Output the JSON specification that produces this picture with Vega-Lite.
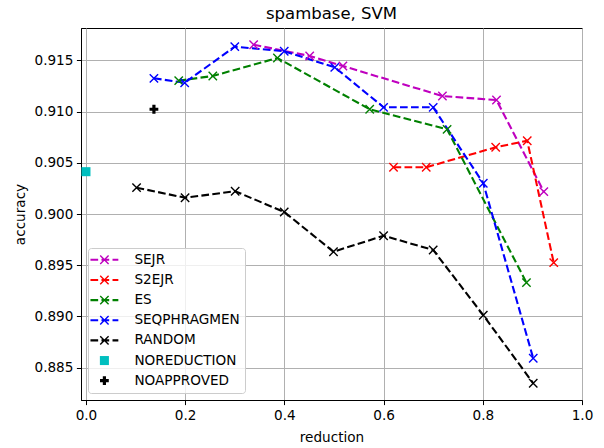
{
  "$schema": "https://vega.github.io/schema/vega-lite/v6.json",
  "width": 501,
  "height": 372,
  "autosize": {"type": "none"},
  "padding": {"left": 81, "top": 28, "right": 22, "bottom": 48},
  "background": "white",
  "title": {"text": "spambase, SVM", "fontSize": 16.5, "font": "DejaVu Sans", "fontWeight": "normal", "color": "black", "offset": 6},
  "data": {
    "values": [
      {"method": "SEJR", "reduction": 0.338, "accuracy": 0.91652},
      {"method": "SEJR", "reduction": 0.451, "accuracy": 0.91542},
      {"method": "SEJR", "reduction": 0.518, "accuracy": 0.91444},
      {"method": "SEJR", "reduction": 0.7186, "accuracy": 0.91151},
      {"method": "SEJR", "reduction": 0.8276, "accuracy": 0.91112},
      {"method": "SEJR", "reduction": 0.923, "accuracy": 0.90218},
      {"method": "S2EJR", "reduction": 0.62, "accuracy": 0.90456},
      {"method": "S2EJR", "reduction": 0.686, "accuracy": 0.90456},
      {"method": "S2EJR", "reduction": 0.826, "accuracy": 0.90651},
      {"method": "S2EJR", "reduction": 0.8896, "accuracy": 0.90715},
      {"method": "S2EJR", "reduction": 0.943, "accuracy": 0.89525},
      {"method": "ES", "reduction": 0.187, "accuracy": 0.91301},
      {"method": "ES", "reduction": 0.2557, "accuracy": 0.91347},
      {"method": "ES", "reduction": 0.386, "accuracy": 0.91522},
      {"method": "ES", "reduction": 0.572, "accuracy": 0.91022},
      {"method": "ES", "reduction": 0.728, "accuracy": 0.90826},
      {"method": "ES", "reduction": 0.888, "accuracy": 0.8933},
      {"method": "SEQPHRAGMEN", "reduction": 0.137, "accuracy": 0.91324},
      {"method": "SEQPHRAGMEN", "reduction": 0.199, "accuracy": 0.91281},
      {"method": "SEQPHRAGMEN", "reduction": 0.3, "accuracy": 0.91633},
      {"method": "SEQPHRAGMEN", "reduction": 0.3997, "accuracy": 0.91588},
      {"method": "SEQPHRAGMEN", "reduction": 0.5016, "accuracy": 0.91431},
      {"method": "SEQPHRAGMEN", "reduction": 0.6, "accuracy": 0.91041},
      {"method": "SEQPHRAGMEN", "reduction": 0.7, "accuracy": 0.91041},
      {"method": "SEQPHRAGMEN", "reduction": 0.801, "accuracy": 0.903},
      {"method": "SEQPHRAGMEN", "reduction": 0.9017, "accuracy": 0.88592},
      {"method": "RANDOM", "reduction": 0.102, "accuracy": 0.90257},
      {"method": "RANDOM", "reduction": 0.1998, "accuracy": 0.90159},
      {"method": "RANDOM", "reduction": 0.3008, "accuracy": 0.90222},
      {"method": "RANDOM", "reduction": 0.3997, "accuracy": 0.9002},
      {"method": "RANDOM", "reduction": 0.499, "accuracy": 0.89632},
      {"method": "RANDOM", "reduction": 0.6, "accuracy": 0.89788},
      {"method": "RANDOM", "reduction": 0.7, "accuracy": 0.89649},
      {"method": "RANDOM", "reduction": 0.801, "accuracy": 0.89012},
      {"method": "RANDOM", "reduction": 0.9017, "accuracy": 0.88348},
      {"method": "NOREDUCTION", "reduction": 0.0, "accuracy": 0.90413},
      {"method": "NOAPPROVED", "reduction": 0.137, "accuracy": 0.91022}
    ]
  },
  "encoding": {
    "x": {
      "field": "reduction", "type": "quantitative",
      "scale": {"domain": [-0.01, 1.0], "nice": false, "zero": false},
      "axis": {"title": "reduction", "values": [0, 0.2, 0.4, 0.6, 0.8, 1.0], "format": ".1f"}
    },
    "y": {
      "field": "accuracy", "type": "quantitative",
      "scale": {"domain": [0.88185, 0.91815], "nice": false, "zero": false},
      "axis": {"title": "accuracy", "values": [0.885, 0.89, 0.895, 0.9, 0.905, 0.91, 0.915], "format": ".3f"}
    }
  },
  "layer": [
    {
      "transform": [{"filter": "false"}],
      "mark": {"type": "point", "filled": true, "opacity": 1},
      "encoding": {
        "color": {
          "field": "method", "type": "nominal",
          "scale": {
            "domain": ["SEJR", "S2EJR", "ES", "SEQPHRAGMEN", "RANDOM", "NOREDUCTION", "NOAPPROVED"],
            "range": ["#bf00bf", "#ff0000", "#008000", "#0000ff", "#000000", "#00bfbf", "#000000"]
          },
          "legend": {
            "title": null, "orient": "bottom-left", "offset": 7, "padding": 5,
            "fillColor": "rgba(255,255,255,0.8)", "strokeColor": "#cccccc", "cornerRadius": 3,
            "labelFont": "DejaVu Sans", "labelFontSize": 13.6, "labelColor": "black", "labelLimit": 300,
            "symbolSize": 70, "symbolStrokeWidth": 0, "symbolOffset": 4.6, "labelOffset": 23.2, "rowPadding": 5.15
          }
        },
        "shape": {
          "field": "method", "type": "nominal",
          "scale": {
            "domain": ["SEJR", "S2EJR", "ES", "SEQPHRAGMEN", "RANDOM", "NOREDUCTION", "NOAPPROVED"],
            "range": [
              "M-3.33,-0.25H-1.49V0.25H-3.33Z M-0.7,-0.25H1.15V0.25H-0.7Z M1.94,-0.25H3.33V0.25H1.94Z M-0.882,-1.118L1.118,0.882L0.882,1.118L-1.118,-0.882Z M0.882,-1.118L1.118,-0.882L-0.882,1.118L-1.118,0.882Z",
              "M-3.33,-0.25H-1.49V0.25H-3.33Z M-0.7,-0.25H1.15V0.25H-0.7Z M1.94,-0.25H3.33V0.25H1.94Z M-0.882,-1.118L1.118,0.882L0.882,1.118L-1.118,-0.882Z M0.882,-1.118L1.118,-0.882L-0.882,1.118L-1.118,0.882Z",
              "M-3.33,-0.25H-1.49V0.25H-3.33Z M-0.7,-0.25H1.15V0.25H-0.7Z M1.94,-0.25H3.33V0.25H1.94Z M-0.882,-1.118L1.118,0.882L0.882,1.118L-1.118,-0.882Z M0.882,-1.118L1.118,-0.882L-0.882,1.118L-1.118,0.882Z",
              "M-3.33,-0.25H-1.49V0.25H-3.33Z M-0.7,-0.25H1.15V0.25H-0.7Z M1.94,-0.25H3.33V0.25H1.94Z M-0.882,-1.118L1.118,0.882L0.882,1.118L-1.118,-0.882Z M0.882,-1.118L1.118,-0.882L-0.882,1.118L-1.118,0.882Z",
              "M-3.33,-0.25H-1.49V0.25H-3.33Z M-0.7,-0.25H1.15V0.25H-0.7Z M1.94,-0.25H3.33V0.25H1.94Z M-0.882,-1.118L1.118,0.882L0.882,1.118L-1.118,-0.882Z M0.882,-1.118L1.118,-0.882L-0.882,1.118L-1.118,0.882Z",
              "M-1.08,-1.08H1.08V1.08H-1.08Z",
              "M-0.38,-1.05H0.38V-0.38H1.05V0.38H0.38V1.05H-0.38V0.38H-1.05V-0.38H-0.38Z"
            ]
          },
          "legend": {
            "title": null, "orient": "bottom-left", "offset": 7, "padding": 5,
            "fillColor": "rgba(255,255,255,0.8)", "strokeColor": "#cccccc", "cornerRadius": 3,
            "labelFont": "DejaVu Sans", "labelFontSize": 13.6, "labelColor": "black", "labelLimit": 300,
            "symbolSize": 70, "symbolStrokeWidth": 0, "symbolOffset": 4.6, "labelOffset": 23.2, "rowPadding": 5.15
          }
        }
      }
    },
    {
      "transform": [{"filter": "datum.method != 'NOREDUCTION' && datum.method != 'NOAPPROVED'"}],
      "mark": {"type": "line", "strokeDash": [7.7, 3.3], "strokeWidth": 2.1},
      "encoding": {"color": {"field": "method", "type": "nominal", "legend": null}}
    },
    {
      "transform": [{"filter": "datum.method != 'NOREDUCTION' && datum.method != 'NOAPPROVED'"}],
      "mark": {"type": "point", "filled": true, "opacity": 1, "size": 70, "shape": "M-0.882,-1.118L1.118,0.882L0.882,1.118L-1.118,-0.882Z M0.882,-1.118L1.118,-0.882L-0.882,1.118L-1.118,0.882Z"},
      "encoding": {"color": {"field": "method", "type": "nominal", "legend": null}}
    },
    {
      "transform": [{"filter": "datum.method == 'NOREDUCTION'"}],
      "mark": {"type": "point", "filled": true, "opacity": 1, "size": 70, "shape": "M-1.08,-1.08H1.08V1.08H-1.08Z", "clip": false},
      "encoding": {"color": {"field": "method", "type": "nominal", "legend": null}}
    },
    {
      "transform": [{"filter": "datum.method == 'NOAPPROVED'"}],
      "mark": {"type": "point", "filled": true, "opacity": 1, "size": 70, "shape": "M-0.38,-1.05H0.38V-0.38H1.05V0.38H0.38V1.05H-0.38V0.38H-1.05V-0.38H-0.38Z"},
      "encoding": {"color": {"field": "method", "type": "nominal", "legend": null}}
    }
  ],
  "config": {
    "view": {"stroke": "black", "strokeWidth": 1},
    "font": "DejaVu Sans",
    "axis": {
      "labelFont": "DejaVu Sans", "labelFontSize": 13.6, "labelColor": "black",
      "titleFont": "DejaVu Sans", "titleFontSize": 13.6, "titleFontWeight": "normal", "titleColor": "black",
      "domainColor": "black", "domainWidth": 1, "tickColor": "black", "tickWidth": 1, "tickSize": 4.6,
      "gridColor": "#b0b0b0", "gridWidth": 1, "gridOpacity": 1,
      "labelFlush": false, "labelOverlap": false
    },
    "axisX": {"labelPadding": 4, "titlePadding": 8},
    "axisY": {"labelPadding": 3.5, "titlePadding": 6}
  }
}
